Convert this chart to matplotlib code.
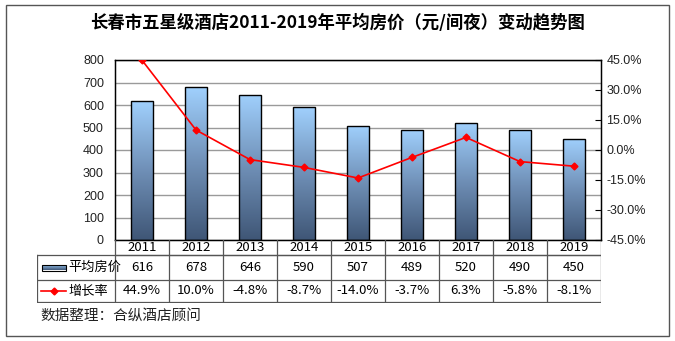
import matplotlib
matplotlib.use("Agg")
import matplotlib.pyplot as plt
import numpy as np
from matplotlib.colors import LinearSegmentedColormap
from matplotlib.patches import Rectangle
from matplotlib.ticker import FuncFormatter, MultipleLocator

plt.rcParams['font.family'] = ['Noto Sans CJK SC', 'DejaVu Sans']

years = ["2011", "2012", "2013", "2014", "2015", "2016", "2017", "2018", "2019"]
avg_price = [616, 678, 646, 590, 507, 489, 520, 490, 450]
growth = [44.9, 10.0, -4.8, -8.7, -14.0, -3.7, 6.3, -5.8, -8.1]
series_names = ["平均房价", "增长率"]
title = "长春市五星级酒店2011-2019年平均房价（元/间夜）变动趋势图"
source = "数据整理：合纵酒店顾问"

W, H = 675, 341
fig = plt.figure(figsize=(W / 100, H / 100), dpi=100)

def px_axes(x0, y0, x1, y1, **kw):
    return fig.add_axes([x0 / W, 1 - y1 / H, (x1 - x0) / W, (y1 - y0) / H], **kw)

# outer border
border = Rectangle((6 / W, 1 - 336 / H), 663 / W, 331 / H, transform=fig.transFigure,
                   fill=False, edgecolor="#555555", linewidth=1.0)
fig.patches.append(border)

fig.text(0.5, 1 - 23 / H, title, ha="center", va="center", fontsize=12.5, fontweight="bold")

L, R, T, B = 115, 601, 60, 240
ax = px_axes(L, T, R, B)
n = len(years)
x = np.arange(n)
cmap = LinearSegmentedColormap.from_list("g", ["#3f5676", "#6f8fb6", "#a0d0fd"])
grad = np.linspace(0, 1, 256).reshape(-1, 1)

bars = ax.bar(x, avg_price, width=0.41, color="none", edgecolor="black", linewidth=1.0, zorder=3)
for b in bars:
    x0, w, h = b.get_x(), b.get_width(), b.get_height()
    im = ax.imshow(grad, cmap=cmap, origin="lower", extent=[x0, x0 + w, 0, h],
                   aspect="auto", zorder=2)
    im.set_clip_path(b)
ax.set_xlim(-0.5, n - 0.5)
ax.set_ylim(0, 800)
ax.yaxis.set_major_locator(MultipleLocator(100))
ax.set_xticks([])
ax.grid(axis="y", color="#9a9a9a", linewidth=1.0, zorder=0)
ax.set_axisbelow(True)
ax.tick_params(axis="y", length=0, labelsize=9, pad=8, labelcolor="#222222",
               labelfontfamily="Liberation Sans")
for s in ax.spines.values():
    s.set_color("black")
    s.set_linewidth(1.0)

ax2 = ax.twinx()
ax2.plot(x, growth, color="#ff0000", linewidth=1.2, marker="D", markersize=3.5, zorder=5)
ax2.set_ylim(-45, 45)
ax2.yaxis.set_major_locator(MultipleLocator(15))
ax2.yaxis.set_major_formatter(FuncFormatter(lambda v, p: f"{v:.1f}%"))
ax2.tick_params(axis="y", direction="in", length=4, labelsize=9, pad=4, labelcolor="#222222",
                labelfontfamily="Liberation Sans")
ax2.set_xlim(-0.5, n - 0.5)

# data table
TL = 37
tax = px_axes(TL, 240, R, 303)
tax.set_xlim(TL, R)
tax.set_ylim(303, 240)
tax.axis("off")
colw = (R - L) / n
lc = "#555555"
tax.plot([L, R], [255, 255], color=lc, lw=0.9)
tax.plot([TL, R], [255, 255], color=lc, lw=0.9)
tax.plot([TL, R], [280, 280], color=lc, lw=0.9)
tax.plot([TL, R], [302, 302], color=lc, lw=0.9)
for i in range(n + 1):
    xx = L + i * colw
    tax.plot([xx, xx], [240, 302], color=lc, lw=0.9)
tax.plot([TL, TL], [255, 302], color=lc, lw=0.9)

fs = 9.5
for i in range(n):
    cx = L + (i + 0.5) * colw
    tax.text(cx, 247.5, years[i], ha="center", va="center", fontsize=fs)
    tax.text(cx, 267.5, f"{avg_price[i]}", ha="center", va="center", fontsize=fs)
    tax.text(cx, 291, f"{growth[i]:.1f}%", ha="center", va="center", fontsize=fs)

# legend keys in table
lg = Rectangle((42, 264.5), 24, 6, facecolor="none", edgecolor="black", lw=0.8, zorder=3)
tax.add_patch(lg)
gim2 = tax.imshow(np.linspace(0, 1, 64).reshape(-1, 1),
                  cmap=LinearSegmentedColormap.from_list("h", ["#a0d0fd", "#3f5676"]),
                  extent=[42, 66, 270.5, 264.5], aspect="auto", zorder=2)
gim2.set_clip_path(lg)
tax.text(68, 267.5, series_names[0], ha="left", va="center", fontsize=fs)
tax.plot([41, 66], [291, 291], color="#ff0000", lw=1.2)
tax.plot([53.5], [291], marker="D", color="#ff0000", markersize=3.5)
tax.text(68, 291, series_names[1], ha="left", va="center", fontsize=fs)
tax.set_xlim(TL, R)
tax.set_ylim(303, 240)

fig.text(40 / W, 1 - 316 / H, source, ha="left", va="center", fontsize=10.5, color="#222222")

fig.savefig("out.png", dpi=100)
